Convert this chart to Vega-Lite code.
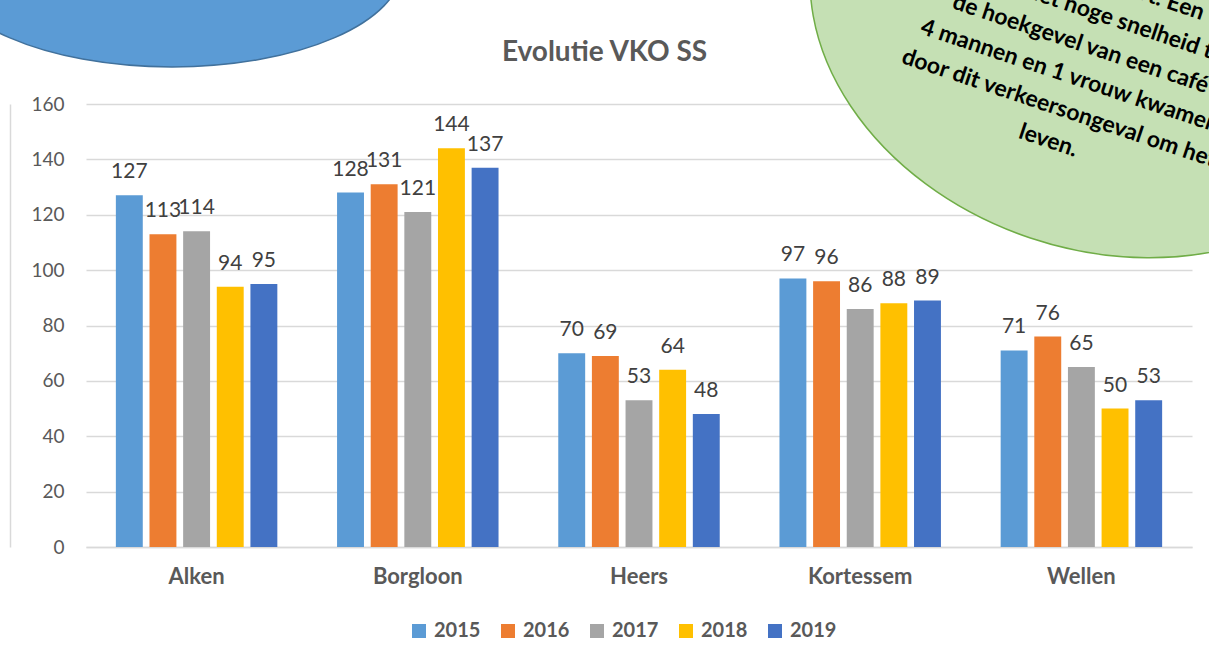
{
  "$schema": "https://vega.github.io/schema/vega-lite/v6.json",
  "width": 1106,
  "height": 443,
  "autosize": {"type": "none"},
  "padding": {"left": 86, "top": 104, "right": 17, "bottom": 117},
  "background": "white",
  "config": {
    "font": "Lato",
    "view": {"stroke": null}
  },
  "resolve": {"axis": {"x": "independent", "y": "independent"}},
  "data": {
    "values": [
      {"Gemeente": "Alken", "Jaar": "2015", "Aantal": 127},
      {"Gemeente": "Alken", "Jaar": "2016", "Aantal": 113},
      {"Gemeente": "Alken", "Jaar": "2017", "Aantal": 114},
      {"Gemeente": "Alken", "Jaar": "2018", "Aantal": 94},
      {"Gemeente": "Alken", "Jaar": "2019", "Aantal": 95},
      {"Gemeente": "Borgloon", "Jaar": "2015", "Aantal": 128},
      {"Gemeente": "Borgloon", "Jaar": "2016", "Aantal": 131},
      {"Gemeente": "Borgloon", "Jaar": "2017", "Aantal": 121},
      {"Gemeente": "Borgloon", "Jaar": "2018", "Aantal": 144},
      {"Gemeente": "Borgloon", "Jaar": "2019", "Aantal": 137},
      {"Gemeente": "Heers", "Jaar": "2015", "Aantal": 70},
      {"Gemeente": "Heers", "Jaar": "2016", "Aantal": 69},
      {"Gemeente": "Heers", "Jaar": "2017", "Aantal": 53},
      {"Gemeente": "Heers", "Jaar": "2018", "Aantal": 64},
      {"Gemeente": "Heers", "Jaar": "2019", "Aantal": 48},
      {"Gemeente": "Kortessem", "Jaar": "2015", "Aantal": 97},
      {"Gemeente": "Kortessem", "Jaar": "2016", "Aantal": 96},
      {"Gemeente": "Kortessem", "Jaar": "2017", "Aantal": 86},
      {"Gemeente": "Kortessem", "Jaar": "2018", "Aantal": 88},
      {"Gemeente": "Kortessem", "Jaar": "2019", "Aantal": 89},
      {"Gemeente": "Wellen", "Jaar": "2015", "Aantal": 71},
      {"Gemeente": "Wellen", "Jaar": "2016", "Aantal": 76},
      {"Gemeente": "Wellen", "Jaar": "2017", "Aantal": 65},
      {"Gemeente": "Wellen", "Jaar": "2018", "Aantal": 50},
      {"Gemeente": "Wellen", "Jaar": "2019", "Aantal": 53}
    ]
  },
  "encoding": {
    "x": {
      "field": "Gemeente",
      "type": "nominal",
      "sort": ["Alken", "Borgloon", "Heers", "Kortessem", "Wellen"],
      "scale": {"paddingInner": 0.27, "paddingOuter": 0.135}
    },
    "y": {
      "field": "Aantal",
      "type": "quantitative",
      "scale": {"domain": [0, 160], "nice": false},
      "axis": null
    }
  },
  "layer": [
    {
      "mark": {"type": "bar"},
      "encoding": {
        "x": {
          "field": "Gemeente",
          "type": "nominal",
          "sort": ["Alken", "Borgloon", "Heers", "Kortessem", "Wellen"],
          "axis": {
            "title": null,
            "labelAngle": 0,
            "labelFontSize": 22,
            "labelFontWeight": "bold",
            "labelColor": "#595959",
            "labelPadding": 19,
            "ticks": false,
            "domainColor": "#d9d9d9",
            "domainWidth": 1.5
          }
        },
        "y": {
          "field": "Aantal",
          "type": "quantitative",
          "scale": {"domain": [0, 160], "nice": false},
          "axis": {
            "title": null,
            "values": [0, 20, 40, 60, 80, 100, 120, 140, 160],
            "labelFontSize": 19,
            "labelColor": "#595959",
            "labelPadding": 22,
            "ticks": false,
            "domain": false,
            "gridColor": "#d9d9d9",
            "gridWidth": 1.5
          }
        },
        "xOffset": {
          "field": "Jaar",
          "type": "nominal",
          "scale": {"paddingInner": 0.2, "paddingOuter": 0}
        },
        "color": {
          "field": "Jaar",
          "type": "nominal",
          "scale": {
            "domain": ["2015", "2016", "2017", "2018", "2019"],
            "range": ["#5b9bd5", "#ed7d31", "#a5a5a5", "#ffc000", "#4472c4"]
          },
          "legend": {
            "title": null,
            "orient": "none",
            "legendX": 323,
            "legendY": 517,
            "direction": "horizontal",
            "symbolType": "square",
            "symbolSize": 196,
            "symbolStrokeWidth": 0,
            "labelFontSize": 20,
            "labelFontWeight": "bold",
            "labelColor": "#595959",
            "labelOffset": 5,
            "columnPadding": 17
          }
        }
      }
    },
    {
      "mark": {
        "type": "text",
        "baseline": "bottom",
        "dy": -13,
        "fontSize": 21,
        "color": "#404040"
      },
      "encoding": {
        "x": {
          "field": "Gemeente",
          "type": "nominal",
          "sort": ["Alken", "Borgloon", "Heers", "Kortessem", "Wellen"],
          "axis": null
        },
        "xOffset": {
          "field": "Jaar",
          "type": "nominal",
          "scale": {"paddingInner": 0.2, "paddingOuter": 0}
        },
        "text": {"field": "Aantal", "type": "quantitative"}
      }
    },
    {
      "transform": [{"filter": "datum.Gemeente == 'Alken' && datum.Jaar == '2015'"}],
      "mark": {
        "type": "point",
        "filled": true,
        "clip": false,
        "fill": "#5b9bd5",
        "stroke": "#41719c",
        "strokeWidth": 1.5,
        "opacity": 1,
        "size": 211600,
        "shape": "M -1.107 0 C -1.107 -0.2401 -0.6593 -0.4348 -0.107 -0.4348 C 0.4453 -0.4348 0.893 -0.2401 0.893 0 C 0.893 0.2401 0.4453 0.4348 -0.107 0.4348 C -0.6593 0.4348 -1.107 0.2401 -1.107 0 Z"
      },
      "encoding": {
        "x": {
          "datum": "Alken",
          "axis": {
            "orient": "top",
            "labels": false,
            "ticks": false,
            "domain": false,
            "grid": false,
            "title": "Evolutie VKO SS",
            "titleFont": "Lato",
            "titleFontSize": 28,
            "titleFontWeight": "bold",
            "titleColor": "#595959",
            "titleX": 518,
            "titleY": -52,
            "titleAlign": "center",
            "titleBaseline": "middle"
          }
        },
        "y": {
          "datum": 209.5,
          "axis": {
            "orient": "left",
            "offset": 76,
            "labels": false,
            "ticks": false,
            "grid": false,
            "title": null,
            "domain": true,
            "domainColor": "#d9d9d9",
            "domainWidth": 1.5
          }
        }
      }
    },
    {
      "transform": [{"filter": "datum.Gemeente == 'Wellen' && datum.Jaar == '2015'"}],
      "mark": {
        "type": "point",
        "filled": true,
        "clip": false,
        "fill": "#c5e0b4",
        "stroke": "#70ad47",
        "strokeWidth": 1.5,
        "opacity": 1,
        "size": 360000,
        "angle": 18.5,
        "shape": "M -0.9205 0 C -0.9205 -0.4271 -0.4728 -0.7733 0.0795 -0.7733 C 0.6318 -0.7733 1.0795 -0.4271 1.0795 0 C 1.0795 0.4271 0.6318 0.7733 0.0795 0.7733 C -0.4728 0.7733 -0.9205 0.4271 -0.9205 0 Z"
      },
      "encoding": {
        "x": {"datum": "Wellen", "axis": null},
        "y": {"datum": 193.8, "axis": null}
      }
    },
    {
      "transform": [{"filter": "datum.Gemeente == 'Wellen' && datum.Jaar == '2015'"}],
      "mark": {
        "type": "text",
        "clip": false,
        "angle": 18.5,
        "align": "center",
        "baseline": "middle",
        "dx": 22,
        "lineHeight": 34,
        "fontSize": 23,
        "fontWeight": "bold",
        "color": "#000000",
        "text": ["ongeval gebeurt. Een", "auto reed met hoge snelheid tegen", "de hoekgevel van een café", "4 mannen en 1 vrouw kwamen", "door dit verkeersongeval om het", "leven."]
      },
      "encoding": {
        "x": {"datum": "Wellen", "axis": null},
        "y": {"datum": 207.5, "axis": null}
      }
    }
  ]
}
